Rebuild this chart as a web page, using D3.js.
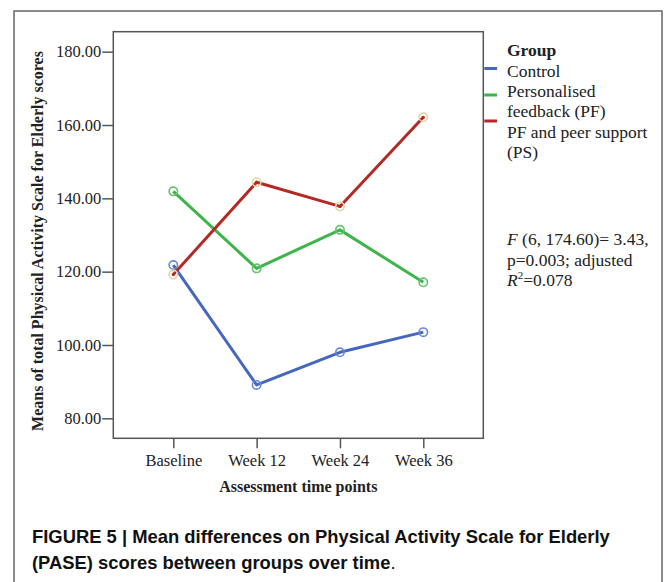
<!DOCTYPE html>
<html>
<head>
<meta charset="utf-8">
<script src="https://cdn.jsdelivr.net/npm/d3@7"></script>
<style>
  html, body { margin: 0; padding: 0; background: #fff; }
  svg { display: block; }
</style>
</head>
<body>
<svg id="chart" width="668" height="582"></svg>
<script>
// ---- data ----
const categories = ["Baseline", "Week 12", "Week 24", "Week 36"];
const groupNames = ["Control", "Personalised feedback (PF)", "PF and peer support (PS)"];
const controlValues = [121.8, 89.1, 98.0, 103.5];
const pfValues = [141.9, 120.9, 131.4, 117.1];
const psValues = [119.2, 144.4, 137.8, 162.1];
const yTicks = [80, 100, 120, 140, 160, 180];
const legendLabels = [["Control"], ["Personalised", "feedback (PF)"], ["PF and peer support", "(PS)"]];

const series = [
  { name: groupNames[0], values: controlValues, color: "#4567bf", marker: "#6b88d2", dot: null },
  { name: groupNames[1], values: pfValues, color: "#3db54b", marker: "#62c46e", dot: null },
  { name: groupNames[2], values: psValues, color: "#b32a24", marker: "#e2d6a4", dot: "#b32a24" }
];

const svg = d3.select("#chart");
const serif = "'Liberation Serif', 'Times New Roman', serif";

// outer frame
svg.append("rect").attr("x", 14).attr("y", 11).attr("width", 648).attr("height", 600)
  .attr("fill", "none").attr("stroke", "#666").attr("stroke-width", 1.5);

const plot = { left: 113.3, right: 483.3, top: 31.7, bottom: 438.3 };

const x = d3.scalePoint().domain(categories).range([plot.left, plot.right]).padding(0.72);
const y = d3.scaleLinear().domain([74.55, 185.45]).range([plot.bottom, plot.top]);

// plot frame
svg.append("rect").attr("x", plot.left).attr("y", plot.top)
  .attr("width", plot.right - plot.left).attr("height", plot.bottom - plot.top)
  .attr("fill", "none").attr("stroke", "#555").attr("stroke-width", 1.5);

// y axis
const yAxis = svg.append("g").attr("transform", `translate(${plot.left},0)`)
  .call(d3.axisLeft(y).tickValues(yTicks).tickFormat(d3.format(".2f")).tickSize(11).tickPadding(1));
yAxis.select(".domain").remove();
yAxis.selectAll("line").attr("stroke", "#555").attr("stroke-width", 1.5);
yAxis.selectAll("text").attr("font-family", serif).attr("font-size", 16.5).attr("fill", "#222");

// x axis
const xAxis = svg.append("g").attr("transform", `translate(0,${plot.bottom})`)
  .call(d3.axisBottom(x).tickSize(10).tickPadding(6));
xAxis.select(".domain").remove();
xAxis.selectAll("line").attr("stroke", "#555").attr("stroke-width", 1.5);
xAxis.selectAll("text").attr("font-family", serif).attr("font-size", 16.5).attr("fill", "#222");

// axis titles
svg.append("text")
  .attr("transform", `translate(43,${(plot.top + plot.bottom) / 2 + 6}) rotate(-90)`)
  .attr("text-anchor", "middle").attr("font-family", serif).attr("font-weight", "bold")
  .attr("font-size", 16).attr("fill", "#222")
  .text("Means of total Physical Activity Scale for Elderly scores");

svg.append("text")
  .attr("x", (plot.left + plot.right) / 2).attr("y", 492)
  .attr("text-anchor", "middle").attr("font-family", serif).attr("font-weight", "bold")
  .attr("font-size", 16).attr("fill", "#222")
  .text("Assessment time points");

// lines
const line = d3.line().x((d, i) => x(categories[i])).y(d => y(d));
series.forEach(s => {
  svg.append("path").datum(s.values).attr("d", line)
    .attr("fill", "none").attr("stroke", s.color).attr("stroke-width", 3)
    .attr("stroke-linejoin", "round");
});
series.forEach(s => {
  svg.selectAll(null).data(s.values).enter().append("circle")
    .attr("cx", (d, i) => x(categories[i])).attr("cy", d => y(d)).attr("r", 4.2)
    .attr("fill", "none").attr("stroke", s.marker).attr("stroke-width", 1.6);
  if (s.dot) {
    svg.selectAll(null).data(s.values).enter().append("circle")
      .attr("cx", (d, i) => x(categories[i])).attr("cy", d => y(d)).attr("r", 1.6)
      .attr("fill", s.dot);
  }
});

// legend
const legX = 507;
svg.append("text").attr("x", legX).attr("y", 56).attr("font-family", serif)
  .attr("font-weight", "bold").attr("font-size", 17.5).attr("fill", "#222").text("Group");
const legLineY = [68.5, 95, 121];
const legTextY = [[76.5], [96.5, 117], [137.5, 158]];
series.forEach((s, i) => {
  svg.append("line").attr("x1", plot.right + 1).attr("x2", 497)
    .attr("y1", legLineY[i]).attr("y2", legLineY[i])
    .attr("stroke", s.color).attr("stroke-width", 3);
  legendLabels[i].forEach((t, j) => {
    svg.append("text").attr("x", legX).attr("y", legTextY[i][j]).attr("font-family", serif)
      .attr("font-size", 17.5).attr("fill", "#222").text(t);
  });
});

// statistics annotation
const st = svg.append("g").attr("font-family", serif).attr("font-size", 17.5).attr("fill", "#222");
const t1 = st.append("text").attr("x", legX).attr("y", 245);
t1.append("tspan").attr("font-style", "italic").text("F");
t1.append("tspan").text(" (6, 174.60)= 3.43,");
st.append("text").attr("x", legX).attr("y", 265.5).text("p=0.003; adjusted");
const t3 = st.append("text").attr("x", legX).attr("y", 286);
t3.append("tspan").attr("font-style", "italic").text("R");
t3.append("tspan").attr("font-size", 11).attr("dy", -7).text("2");
t3.append("tspan").attr("dy", 7).text("=0.078");

// caption
const sans = "'Liberation Sans', Arial, sans-serif";
const cap = svg.append("g").attr("font-family", sans).attr("font-weight", "bold")
  .attr("font-size", 18.4).attr("fill", "#111");
cap.append("text").attr("x", 32).attr("y", 543)
  .text("FIGURE 5 | Mean differences on Physical Activity Scale for Elderly");
const c2 = cap.append("text").attr("x", 32).attr("y", 569);
c2.append("tspan").text("(PASE) scores between groups over time");
c2.append("tspan").attr("font-weight", "normal").text(".");
</script>
</body>
</html>
